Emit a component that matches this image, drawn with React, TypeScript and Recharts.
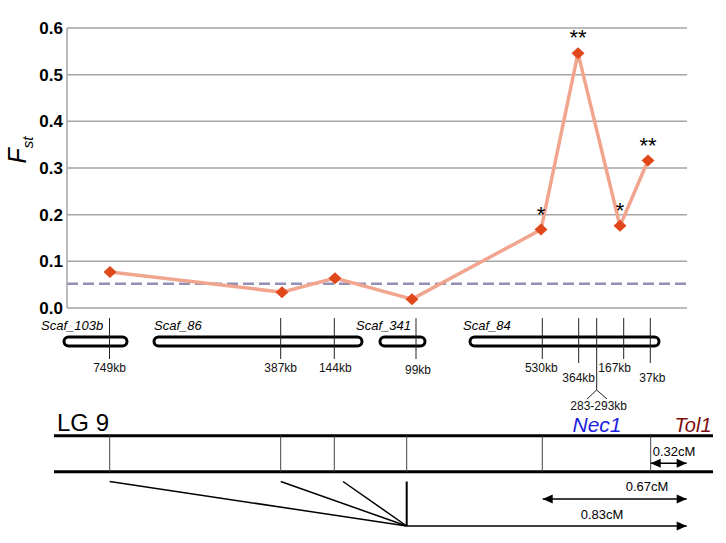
import {
  CartesianGrid,
  LabelList,
  Line,
  LineChart,
  ReferenceArea,
  ReferenceDot,
  ReferenceLine,
  XAxis,
  YAxis,
} from 'recharts';

const FONT = '"Liberation Sans", Arial, Helvetica, sans-serif';

// map position of each SNP along LG 9 (schematic units) and its Fst
const snpPositions = [43, 215, 268, 345, 474, 511, 553, 581];
const fstValues = [0.077, 0.034, 0.064, 0.019, 0.168, 0.546, 0.176, 0.316];
const significance = ['', '', '', '', '*', '**', '*', '**'];
const fstTicks = [0, 0.1, 0.2, 0.3, 0.4, 0.5, 0.6];
const meanFst = 0.052;

// scaffolds drawn under the plot
const scaffoldNames = ['Scaf_103b', 'Scaf_86', 'Scaf_341', 'Scaf_84'];
const scaffoldStarts = [-3, 87, 313, 403];
const scaffoldEnds = [60, 295, 358, 592];
const scaffoldLabelStarts = [-26, 87, 289, 396];

// kb markers on the scaffolds
const kbLabels = ['749kb', '387kb', '144kb', '99kb', '530kb', '364kb', '283-293kb', '167kb', '37kb'];
const kbPositions = [42.5, 213.7, 267.3, 349, 475.3, 511.7, 529.7, 556.7, 583.3];
const kbLabelShift = [0, 0, 1, 2, -1, 0, 2, -9, 2];
const kbRow = [0, 0, 0, 0, 0, 1, 2, 0, 1];

// linkage group LG 9
const lgMarkers = [42.7, 213.7, 267.3, 339.7, 475.3, 583.7];
const lgStart = -13;
const lgEnd = 646;
const fanStarts = [42.7, 213.7, 276];
const fanApex = 339.7;
const cmLabels = ['0.32cM', '0.67cM', '0.83cM'];
const cmFrom = [583.7, 475.7, 339.7];
const cmTo = [619.7, 619.7, 619.7];

const data = snpPositions.map((pos, i) => ({
  pos,
  fst: fstValues[i],
  sig: significance[i],
}));

// the schematic sits below the axis; rows are given in px below the 0.0 line
const PLOT_HEIGHT = 280;
const row = (px: number) => (-px * 0.6) / PLOT_HEIGHT;

const ROW_SCAF_LABEL = 21.5;
const ROW_TICK_TOP = 10;
const ROW_PILL_TOP = 29;
const ROW_PILL_BOTTOM = 38;
const ROW_LG_TEXT = 124;
const ROW_LG_TOP = 127.7;
const ROW_LG_BOTTOM = 163.7;
const ROW_FAN_TOP = 173.5;
const ROW_FAN_APEX = 218;
const cmArrowRows = [155.3, 191, 218];
const cmTextRows = [147.5, 183, 210.5];

const Diamond = (props: any) => {
  const { cx, cy, index } = props;
  if (cx == null || cy == null) return null;
  return (
    <polygon
      key={`d-${index}`}
      points={`${cx},${cy - 6} ${cx + 6.5},${cy} ${cx},${cy + 6} ${cx - 6.5},${cy}`}
      fill='#e0481c'
    />
  );
};

const mapText = (key: string, x: number, r: number, text: string, style: any) => (
  <ReferenceDot
    key={key}
    yAxisId='fst'
    x={x}
    y={row(r)}
    ifOverflow='visible'
    shape={(p: any) => (
      <text x={p.cx} y={p.cy} fontFamily={FONT} {...style}>
        {text}
      </text>
    )}
  />
);

const mapLine = (key: string, x1: number, r1: number, x2: number, r2: number, stroke: string, width: number) => (
  <ReferenceLine
    key={key}
    yAxisId='fst'
    segment={[
      { x: x1, y: row(r1) },
      { x: x2, y: row(r2) },
    ]}
    stroke={stroke}
    strokeWidth={width}
    ifOverflow='visible'
  />
);

const arrowShape = (both: boolean) => (p: any) => {
  const { x1, y1, x2 } = p;
  const left = Math.min(x1, x2);
  const right = Math.max(x1, x2);
  const y = y1;
  return (
    <g>
      <line x1={left} y1={y} x2={right} y2={y} stroke='#000' strokeWidth={1.5} />
      <polygon points={`${right},${y} ${right - 10},${y - 4.5} ${right - 10},${y + 4.5}`} fill='#000' />
      {both && <polygon points={`${left},${y} ${left + 10},${y - 4.5} ${left + 10},${y + 4.5}`} fill='#000' />}
    </g>
  );
};

const FstLabel = () => (
  <text transform='translate(26,150) rotate(-90)' textAnchor='middle' fontFamily={FONT} fontStyle='italic'>
    <tspan fontSize={25}>F</tspan>
    <tspan fontSize={15} dy={7}>
      st
    </tspan>
  </text>
);

export default function App() {
  return (
    <div style={{ position: 'absolute', left: 0, top: 0 }}>
      <LineChart width={726} height={543} data={data} margin={{ top: 28, right: 39, bottom: 235, left: 0 }}>
        <CartesianGrid yAxisId='fst' vertical={false} stroke='#a5a5a5' strokeWidth={1.5} />
        <XAxis type='number' dataKey='pos' domain={[0, 620]} hide />
        <YAxis
          yAxisId='fst'
          domain={[0, 0.6]}
          ticks={fstTicks}
          tickFormatter={(v: number) => v.toFixed(1)}
          tick={{ fontSize: 17, fontWeight: 'bold', fill: '#000', fontFamily: FONT }}
          tickLine={false}
          tickSize={4}
          tickMargin={0}
          axisLine={{ stroke: '#a5a5a5', strokeWidth: 1.5 }}
          width={67}
          label={{ content: () => <FstLabel /> }}
        />

        <ReferenceLine yAxisId='fst' y={meanFst} stroke='#948fb5' strokeWidth={2.5} strokeDasharray='11 5' />

        <Line
          yAxisId='fst'
          dataKey='fst'
          stroke='#f2a58e'
          strokeWidth={3.5}
          dot={Diamond}
          activeDot={false}
          isAnimationActive={false}
        >
          <LabelList
            dataKey='sig'
            content={(p: any) => (
              <text x={p.x} y={p.y - 8} textAnchor='middle' fontSize={22} fontFamily={FONT} fill='#000'>
                {p.value}
              </text>
            )}
          />
        </Line>

        {/* scaffolds */}
        {scaffoldNames.map((name, i) => (
          <ReferenceArea
            key={`pill-${name}`}
            yAxisId='fst'
            x1={scaffoldStarts[i]}
            x2={scaffoldEnds[i]}
            y1={row(ROW_PILL_TOP)}
            y2={row(ROW_PILL_BOTTOM)}
            ifOverflow='visible'
            shape={(p: any) => (
              <rect
                x={p.x}
                y={p.y}
                width={p.width}
                height={p.height}
                rx={p.height / 2}
                ry={p.height / 2}
                fill='none'
                stroke='#000'
                strokeWidth={3}
              />
            )}
          />
        ))}
        {scaffoldNames.map((name, i) =>
          mapText(`sl-${name}`, scaffoldLabelStarts[i], ROW_SCAF_LABEL, name, {
            fontSize: 13,
            fontStyle: 'italic',
            fill: '#000',
          })
        )}

        {/* kb markers */}
        {kbLabels.map((label, i) => {
          const r = kbRow[i];
          const bottom = r === 0 ? 51 : r === 1 ? 55 : 82;
          return mapLine(`kt-${label}`, kbPositions[i], ROW_TICK_TOP, kbPositions[i], bottom, '#222', 1);
        })}
        {mapLine('br-l', kbPositions[6], 82, 520, 91, '#222', 1)}
        {mapLine('br-r', kbPositions[6], 82, 540, 91, '#222', 1)}
        {kbLabels.map((label, i) => {
          const r = kbRow[i];
          const textRow = r === 0 ? (i === 3 ? 66 : 64) : r === 1 ? 74 : 102;
          return mapText(`kl-${label}`, kbPositions[i] + kbLabelShift[i], textRow, label, {
            fontSize: 12,
            textAnchor: 'middle',
            fill: '#111',
          });
        })}

        {/* LG 9 */}
        {mapText('lg9', -10, ROW_LG_TEXT - 1, 'LG 9', { fontSize: 24, fill: '#000' })}
        {mapText('nec1', 530, ROW_LG_TEXT, 'Nec1', {
          fontSize: 21,
          fontStyle: 'italic',
          textAnchor: 'middle',
          fill: '#1d1de0',
        })}
        {mapText('tol1', 626, ROW_LG_TEXT, 'Tol1', {
          fontSize: 20,
          fontStyle: 'italic',
          textAnchor: 'middle',
          fill: '#7d0c0c',
        })}
        {mapLine('lg-top', lgStart, ROW_LG_TOP, lgEnd, ROW_LG_TOP, '#000', 3)}
        {mapLine('lg-bot', lgStart, ROW_LG_BOTTOM, lgEnd, ROW_LG_BOTTOM, '#000', 3)}
        {lgMarkers.map((m, i) => mapLine(`lgm-${i}`, m, ROW_LG_TOP, m, ROW_LG_BOTTOM, '#444', 1))}
        {fanStarts.map((f, i) => mapLine(`fan-${i}`, f, ROW_FAN_TOP, fanApex, ROW_FAN_APEX, '#000', 1.5))}
        {mapLine('fan-v', fanApex, ROW_FAN_TOP, fanApex, ROW_FAN_APEX, '#000', 2)}

        {cmLabels.map((label, i) => (
          <ReferenceLine
            key={`cm-${label}`}
            yAxisId='fst'
            segment={[
              { x: cmFrom[i], y: row(cmArrowRows[i]) },
              { x: cmTo[i], y: row(cmArrowRows[i]) },
            ]}
            ifOverflow='visible'
            shape={arrowShape(i < 2)}
          />
        ))}
        {mapText('cm0', 585.7, cmTextRows[0], cmLabels[0], { fontSize: 13, fill: '#000' })}
        {mapText('cm1', 580, cmTextRows[1], cmLabels[1], { fontSize: 13, textAnchor: 'middle', fill: '#000' })}
        {mapText('cm2', 535, cmTextRows[2], cmLabels[2], { fontSize: 13, textAnchor: 'middle', fill: '#000' })}
      </LineChart>
    </div>
  );
}
